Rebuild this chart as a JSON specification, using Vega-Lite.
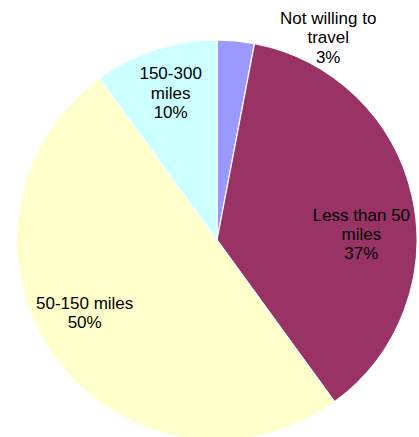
{
  "$schema": "https://vega.github.io/schema/vega-lite/v6.json",
  "width": 404,
  "height": 394,
  "padding": {"left": 15, "top": 43, "right": 0, "bottom": 0},
  "autosize": {"type": "none"},
  "background": "white",
  "config": {"view": {"stroke": null}},
  "data": {
    "values": [
      {"rank": 1, "category": "Not willing to travel", "percent": 3, "label": "Not willing to\ntravel\n3%"},
      {"rank": 2, "category": "Less than 50 miles", "percent": 37, "label": "Less than 50\nmiles\n37%"},
      {"rank": 3, "category": "50-150 miles", "percent": 50, "label": "50-150 miles\n50%"},
      {"rank": 4, "category": "150-300 miles", "percent": 10, "label": "150-300\nmiles\n10%"}
    ]
  },
  "encoding": {
    "theta": {"field": "percent", "type": "quantitative", "stack": true},
    "order": {"field": "rank", "type": "quantitative"}
  },
  "layer": [
    {
      "mark": {"type": "arc", "outerRadius": 200, "stroke": "white", "strokeWidth": 1.2},
      "encoding": {
        "color": {
          "field": "category",
          "type": "nominal",
          "scale": {
            "domain": ["Not willing to travel", "Less than 50 miles", "50-150 miles", "150-300 miles"],
            "range": ["#9999FF", "#993366", "#FFFFCC", "#CCFFFF"]
          },
          "legend": null
        }
      }
    },
    {
      "mark": {"type": "text", "radius": 150, "dx": -2, "dy": 9, "font": "Liberation Sans", "fontSize": 17, "lineHeight": 19, "lineBreak": "\n", "fill": "black", "align": "center", "baseline": "middle"},
      "encoding": {"text": {"condition": {"test": "datum.category == 'Less than 50 miles'", "field": "label"}, "value": ""}}
    },
    {
      "mark": {"type": "text", "radius": 150, "dx": -11, "dy": -24, "font": "Liberation Sans", "fontSize": 17, "lineHeight": 19, "lineBreak": "\n", "fill": "black", "align": "center", "baseline": "middle"},
      "encoding": {"text": {"condition": {"test": "datum.category == '50-150 miles'", "field": "label"}, "value": ""}}
    },
    {
      "mark": {"type": "text", "radius": 150, "dx": 0, "dy": -23, "font": "Liberation Sans", "fontSize": 17, "lineHeight": 19.5, "lineBreak": "\n", "fill": "black", "align": "center", "baseline": "middle"},
      "encoding": {"text": {"condition": {"test": "datum.category == '150-300 miles'", "field": "label"}, "value": ""}}
    },
    {
      "mark": {"type": "text", "radius": 204, "dx": 92, "dy": -18, "font": "Liberation Sans", "fontSize": 17, "lineHeight": 19.5, "lineBreak": "\n", "fill": "black", "align": "center", "baseline": "middle"},
      "encoding": {"text": {"condition": {"test": "datum.category == 'Not willing to travel'", "field": "label"}, "value": ""}}
    }
  ]
}
